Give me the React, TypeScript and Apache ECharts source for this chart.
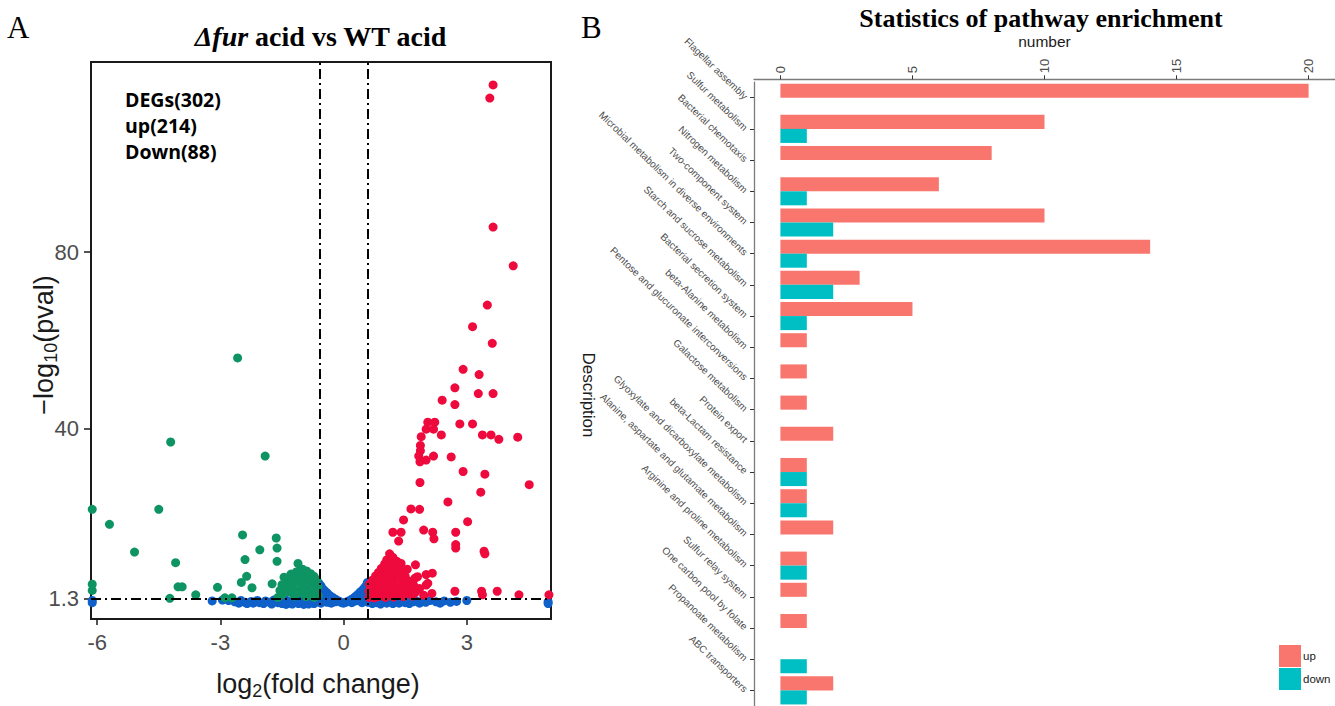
import React, { useEffect, useRef } from "react";
import * as echarts from "echarts";

// ---------- Panel A: volcano data [log2FC, -log10(p)] ----------
const upGenes: number[][] = [
  [3.64, 118], [3.56, 115], [3.64, 85.7], [4.13, 76.9], [3.5, 68.0], [3.14, 63.1], [3.62, 59.3],
  [2.91, 53.4], [3.3, 52.2], [2.71, 49.2], [3.28, 47.9], [3.64, 47.9], [2.4, 46.4], [2.71, 45.4],
  [2.05, 41.4], [2.22, 41.4], [2.01, 39.8], [2.19, 39.8], [2.83, 41.0], [3.14, 41.0], [2.38, 38.5],
  [1.89, 38.1], [3.38, 38.5], [3.59, 38.5], [3.78, 37.5], [4.24, 38.0], [1.87, 36.1], [1.87, 34.9],
  [1.83, 33.7], [1.86, 32.4], [2.01, 32.8], [2.19, 33.7], [2.62, 33.5], [2.91, 30.2], [3.44, 29.6],
  [1.86, 27.7], [4.52, 27.2], [3.34, 25.5], [2.54, 23.3], [1.64, 21.7], [1.85, 21.6], [1.46, 19.2],
  [3.02, 18.8], [1.2, 16.4], [1.4, 16.4], [1.95, 16.9], [2.17, 16.4], [2.73, 16.4], [1.34, 14.4],
  [2.2, 14.9], [2.73, 13.6], [2.73, 12.8], [3.42, 12.1], [3.44, 11.5], [1.75, 9.0], [2.01, 6.8],
  [2.16, 7.1], [1.74, 6.0], [1.75, 3.7], [2.01, 4.4], [2.71, 3.0], [3.36, 3.0], [3.38, 2.2],
  [3.74, 3.0], [4.27, 2.2], [5.0, 2.2],
  [0.62, 1.6], [0.62, 3.0], [0.63, 4.6], [0.68, 2.2], [0.7, 3.8], [0.7, 5.5], [0.75, 1.5], [0.75, 4.5],
  [0.78, 6.5], [0.8, 2.8], [0.82, 5.2], [0.85, 7.3], [0.85, 1.8], [0.88, 3.9], [0.9, 6.1], [0.92, 8.2],
  [0.95, 2.5], [0.95, 4.8], [0.98, 7.0], [1.0, 9.2], [1.0, 3.4], [1.02, 1.6], [1.05, 5.8], [1.05, 10.1],
  [1.08, 8.0], [1.1, 2.2], [1.1, 4.2], [1.12, 11.5], [1.15, 6.8], [1.15, 9.4], [1.18, 3.0], [1.2, 10.7],
  [1.2, 5.2], [1.22, 1.7], [1.25, 8.5], [1.25, 7.0], [1.28, 4.0], [1.3, 9.8], [1.3, 2.5], [1.33, 6.0],
  [1.35, 8.1], [1.38, 3.3], [1.4, 9.3], [1.42, 5.0], [1.45, 7.2], [1.45, 1.8], [1.5, 4.2], [1.5, 6.4],
  [1.55, 2.6], [1.55, 8.0], [1.6, 5.3], [1.62, 3.5], [1.68, 1.9], [1.7, 4.5], [1.75, 2.8], [1.8, 6.3],
  [1.85, 3.6], [1.95, 2.1], [2.05, 4.8], [2.15, 2.5]
];

const downGenes: number[][] = [
  [-2.58, 56.0], [-4.21, 36.9], [-1.91, 33.7], [-6.12, 21.6], [-4.5, 21.6], [-5.7, 18.2], [-5.09, 11.9],
  [-4.09, 9.5], [-2.46, 15.8], [-1.64, 15.1], [-1.62, 12.8], [-2.04, 12.4], [-2.4, 10.2], [-1.62, 9.8],
  [-1.11, 9.3], [-4.03, 4.0], [-3.93, 4.0], [-3.07, 3.9], [-2.36, 6.4], [-2.49, 5.0], [-2.23, 3.8],
  [-1.74, 4.7], [-3.6, 2.2], [-4.23, 1.4], [-6.12, 4.6], [-6.12, 3.2], [-2.89, 1.5], [-2.72, 1.5],
  [-0.62, 2.0], [-0.62, 4.0], [-0.65, 5.6], [-0.68, 3.0], [-0.72, 1.6], [-0.72, 6.4], [-0.75, 4.6],
  [-0.8, 2.5], [-0.8, 7.0], [-0.85, 5.4], [-0.88, 3.5], [-0.9, 7.6], [-0.92, 1.8], [-0.95, 6.0],
  [-0.98, 4.2], [-1.0, 8.0], [-1.02, 2.6], [-1.05, 6.8], [-1.08, 5.0], [-1.12, 3.2], [-1.15, 7.4],
  [-1.2, 1.9], [-1.2, 5.8], [-1.25, 4.0], [-1.28, 6.9], [-1.32, 2.8], [-1.35, 5.2], [-1.4, 3.6],
  [-1.45, 6.2], [-1.5, 2.2], [-1.5, 4.5], [-1.55, 3.2], [-1.6, 1.6]
];

const nsGenes: number[][] = [
  [-6.12, 0.9], [-6.12, 0.4], [-3.2, 0.8], [-2.95, 1.0], [-2.8, 0.9], [-2.65, 0.6], [-2.55, 0.3],
  [-2.5, 0.9], [-2.4, 0.5], [-2.35, 0.2], [-2.25, 0.7], [-2.2, 0.3], [-2.1, 0.9], [-2.05, 0.4],
  [-1.95, 0.2], [-1.9, 0.8], [-1.8, 0.5], [-1.75, 0.1], [-1.7, 1.0], [-1.65, 0.7], [-1.6, 0.4],
  [-1.55, 0.8], [-1.5, 0.2], [-1.45, 0.6], [-1.42, 1.1], [-1.4, 0.0], [-1.35, 0.3], [-1.3, 0.7],
  [-1.25, 0.1], [-1.22, 1.0], [-1.2, 0.9], [-1.15, 0.5], [-1.1, 0.2], [-1.08, 0.8], [-1.05, 1.0],
  [-1.0, 0.6], [-0.97, 0.0], [-0.95, 0.3], [-0.9, 0.9], [-0.85, 0.1], [-0.82, 0.5], [-0.8, 0.6],
  [-0.75, 1.1], [-0.72, 0.2], [-0.7, 0.4], [-0.67, 0.9], [-0.65, 0.8], [-0.62, 2.5], [-0.6, 4.8],
  [-0.6, 3.8], [-0.58, 1.8], [-0.55, 0.3], [-0.55, 4.2], [-0.5, 3.5], [-0.5, 2.2], [-0.5, 1.0],
  [-0.45, 3.0], [-0.45, 1.6], [-0.4, 2.6], [-0.4, 0.5], [-0.35, 2.1], [-0.35, 1.2], [-0.3, 1.8],
  [-0.3, 0.3], [-0.25, 1.5], [-0.2, 1.2], [-0.2, 0.6], [-0.15, 0.9], [-0.1, 0.7], [-0.05, 0.4],
  [0.0, 0.3], [0.05, 0.5], [0.1, 0.7], [0.15, 0.9], [0.2, 1.2], [0.2, 0.4], [0.25, 1.5], [0.3, 1.9],
  [0.3, 0.8], [0.35, 2.3], [0.4, 2.8], [0.4, 1.3], [0.45, 3.2], [0.45, 0.4], [0.5, 3.7], [0.5, 2.0],
  [0.55, 4.3], [0.55, 1.0], [0.58, 5.0], [0.6, 3.0], [0.6, 0.5], [0.65, 1.0], [0.68, 0.5], [0.7, 0.2],
  [0.75, 0.8], [0.78, 1.1], [0.8, 0.4], [0.85, 1.0], [0.88, 0.6], [0.9, 0.1], [0.95, 0.6], [0.98, 1.1],
  [1.0, 0.9], [1.05, 0.3], [1.1, 0.7], [1.15, 1.0], [1.2, 0.2], [1.25, 0.6], [1.3, 0.9], [1.35, 0.3],
  [1.4, 0.7], [1.45, 1.0], [1.5, 0.4], [1.55, 1.0], [1.6, 0.2], [1.65, 0.7], [1.7, 0.6], [1.75, 0.9],
  [1.85, 0.3], [1.9, 0.7], [2.0, 0.5], [2.1, 0.9], [2.25, 0.6], [2.35, 0.3], [2.45, 0.8], [2.6, 0.5],
  [2.75, 0.7], [3.0, 0.9], [4.98, 0.6], [4.98, 0.2]
];

const volcanoXTicks = [-6, -3, 0, 3];
const volcanoYTicks = [1.3, 40, 80];
const fcCutoff = 0.585;
const pCutoff = 1.3;

// ---------- Panel B: pathway enrichment ----------
const pathways = [
  "Flagellar assembly", "Sulfur metabolism", "Bacterial chemotaxis", "Nitrogen metabolism",
  "Two-component system", "Microbial metabolism in diverse environments", "Starch and sucrose metabolism",
  "Bacterial secretion system", "beta-Alanine metabolism", "Pentose and glucuronate interconversions",
  "Galactose metabolism", "Protein export", "beta-Lactam resistance",
  "Glyoxylate and dicarboxylate metabolism", "Alanine, aspartate and glutamate metabolism",
  "Arginine and proline metabolism", "Sulfur relay system", "One carbon pool by folate",
  "Propanoate metabolism", "ABC transporters"
];
const upCounts = [20, 10, 8, 6, 10, 14, 3, 5, 1, 1, 1, 2, 1, 1, 2, 1, 1, 1, 0, 2];
const downCounts = [0, 1, 0, 1, 2, 1, 2, 1, 0, 0, 0, 0, 1, 1, 0, 1, 0, 0, 1, 1];
const numberTicks = [0, 5, 10, 15, 20];

const SANS = "Liberation Sans, Arial, Helvetica, sans-serif";
const SERIF = "Liberation Serif, Times New Roman, serif";
const CALIBRI = "Open Sans, Noto Sans, sans-serif";

let measureCtx: CanvasRenderingContext2D | null = null;
function measure(text: string, font: string): number {
  if (!measureCtx) measureCtx = document.createElement("canvas").getContext("2d");
  if (!measureCtx) return text.length * 10;
  measureCtx.font = font;
  return measureCtx.measureText(text).width;
}

type Piece = { text: string; size: number; weight?: string; style?: string; family: string; dy?: number; fill?: string };
function textRun(cx: number, cy: number, pieces: Piece[], rotation = 0): any {
  const widths = pieces.map((p) =>
    measure(p.text, `${p.style || "normal"} ${p.weight || "normal"} ${p.size}px ${p.family}`)
  );
  const total = widths.reduce((a, b) => a + b, 0);
  let x = -total / 2;
  const children = pieces.map((p, i) => {
    const el = {
      type: "text",
      x,
      y: p.dy || 0,
      style: {
        text: p.text,
        fontSize: p.size,
        fontFamily: p.family,
        fontWeight: p.weight || "normal",
        fontStyle: p.style || "normal",
        fill: p.fill || "#1a1a1a",
        align: "left",
        textAlign: "left",
        verticalAlign: "middle",
        textVerticalAlign: "middle",
      },
    };
    x += widths[i];
    return el;
  });
  return { type: "group", x: cx, y: cy, rotation, children };
}

function plainText(x: number, y: number, text: string, size: number, family: string, extra: any = {}): any {
  return {
    type: "text",
    x,
    y,
    rotation: extra.rotation || 0,
    style: {
      text,
      fontSize: size,
      fontFamily: family,
      fontWeight: extra.weight || "normal",
      fill: extra.fill || "#111",
      align: extra.align || "left",
      textAlign: extra.align || "left",
      verticalAlign: "middle",
      textVerticalAlign: "middle",
    },
  };
}

export default function App() {
  const ref = useRef<HTMLDivElement>(null);

  useEffect(() => {
    if (!ref.current) return;
    const chart = echarts.init(ref.current, undefined, { renderer: "svg" });

    const dashDot = [10, 4, 2, 4];
    const graphics: any[] = [
      plainText(7, 27, "A", 31, SERIF, { fill: "#000" }),
      plainText(581, 27, "B", 31, SERIF, { fill: "#000" }),
      textRun(321, 36, [
        { text: "Δfur", size: 28, weight: "bold", style: "italic", family: SERIF, fill: "#000" },
        { text: " acid vs WT acid", size: 28, weight: "bold", family: SERIF, fill: "#000" },
      ]),
      textRun(1041, 18, [
        { text: "Statistics of pathway enrichment", size: 26, weight: "bold", family: SERIF, fill: "#000" },
      ]),
      plainText(125, 99, "DEGs(302)", 19.5, CALIBRI, { weight: "bold", fill: "#000" }),
      plainText(125, 125, "up(214)", 19.5, CALIBRI, { weight: "bold", fill: "#000" }),
      plainText(125, 151, "Down(88)", 19.5, CALIBRI, { weight: "bold", fill: "#000" }),
      textRun(318, 684, [
        { text: "log", size: 27, family: SANS },
        { text: "2", size: 18, family: SANS, dy: 7 },
        { text: "(fold change)", size: 27, family: SANS },
      ]),
      textRun(44, 345, [
        { text: "−log", size: 27, family: SANS },
        { text: "10", size: 18, family: SANS, dy: 7 },
        { text: "(pval)", size: 27, family: SANS },
      ], Math.PI / 2),
      plainText(588, 395, "Description", 17, SANS, { align: "center", rotation: -Math.PI / 2, fill: "#1a1a1a" }),
    ];

    const option: any = {
      animation: false,
      backgroundColor: "#ffffff",
      grid: [
        { left: 91, top: 62, width: 460, height: 557, show: true, borderColor: "#1a1a1a", borderWidth: 2, backgroundColor: "transparent" },
        { left: 754, top: 82.1, width: 599, height: 625.2 },
      ],
      xAxis: [
        {
          type: "value", gridIndex: 0, min: -6.15, max: 5.05,
          axisLine: { show: false, onZero: false }, splitLine: { show: false },
          axisTick: { show: true, length: 6, lineStyle: { color: "#1a1a1a", width: 1.5 }, customValues: volcanoXTicks },
          axisLabel: { customValues: volcanoXTicks, fontSize: 22, color: "#4d4d4d", fontFamily: SANS, margin: 12 },
        },
        {
          type: "value", gridIndex: 1, position: "top", min: -1, max: 21, offset: 2.8,
          name: "number", nameLocation: "middle", nameGap: 30,
          nameTextStyle: { fontSize: 15.5, color: "#1a1a1a", fontFamily: SANS },
          axisLine: { show: true, onZero: false, lineStyle: { color: "#7a7a7a", width: 1.3 } },
          splitLine: { show: false },
          axisTick: { show: true, length: 4, lineStyle: { color: "#333", width: 1 }, customValues: numberTicks },
          axisLabel: { customValues: numberTicks, rotate: -90, fontSize: 13, color: "#4d4d4d", fontFamily: SANS, margin: 6 },
        },
      ],
      yAxis: [
        {
          type: "value", gridIndex: 0, min: -3.3, max: 123.2,
          axisLine: { show: false, onZero: false }, splitLine: { show: false },
          axisTick: { show: true, length: 7, lineStyle: { color: "#1a1a1a", width: 1.5 }, customValues: volcanoYTicks },
          axisLabel: { customValues: volcanoYTicks, fontSize: 22, color: "#4d4d4d", fontFamily: SANS, margin: 12 },
        },
        {
          type: "category", gridIndex: 1, inverse: true, data: pathways,
          axisLine: { show: true, onZero: false, lineStyle: { color: "#7a7a7a", width: 1.3 } },
          axisTick: { show: true, alignWithLabel: true, length: 4, lineStyle: { color: "#333", width: 1 } },
          axisLabel: { interval: 0, rotate: -44, fontSize: 10, color: "#4d4d4d", fontFamily: SANS, margin: 8 },
          splitLine: { show: false },
        },
      ],
      legend: {
        data: ["up", "down"],
        orient: "vertical",
        left: 1279, top: 645, padding: 0,
        itemWidth: 22, itemHeight: 22, itemGap: 1,
        icon: "rect",
        textStyle: { fontSize: 11.5, color: "#1a1a1a", fontFamily: SANS, padding: [0, 0, 0, -3] },
      },
      graphic: graphics,
      series: [
        {
          name: "ns", type: "scatter", xAxisIndex: 0, yAxisIndex: 0, data: nsGenes,
          symbolSize: 9, itemStyle: { color: "#1060C9", opacity: 1 }, silent: true,
        },
        {
          name: "downGenes", type: "scatter", xAxisIndex: 0, yAxisIndex: 0, data: downGenes,
          symbolSize: 9, itemStyle: { color: "#0E9463", opacity: 1 }, silent: true,
        },
        {
          name: "upGenes", type: "scatter", xAxisIndex: 0, yAxisIndex: 0, data: upGenes,
          symbolSize: 9, itemStyle: { color: "#EE0A3C", opacity: 1 }, silent: true,
        },
        {
          name: "cutoffs", type: "line", xAxisIndex: 0, yAxisIndex: 0, data: [], z: 10, silent: true,
          markLine: {
            silent: true, symbol: ["none", "none"], label: { show: false },
            lineStyle: { type: dashDot, color: "#000", width: 2 },
            data: [{ xAxis: -fcCutoff }, { xAxis: fcCutoff }, { yAxis: pCutoff }],
          },
        },
        {
          name: "up", type: "bar", xAxisIndex: 1, yAxisIndex: 1, data: upCounts,
          itemStyle: { color: "#F8766D" }, barGap: "0%", barCategoryGap: "10%",
        },
        {
          name: "down", type: "bar", xAxisIndex: 1, yAxisIndex: 1, data: downCounts,
          itemStyle: { color: "#00BFC4" }, barGap: "0%", barCategoryGap: "10%",
        },
      ],
    };

    chart.setOption(option);
    return () => chart.dispose();
  }, []);

  return (
    <div
      ref={ref}
      style={{ position: "fixed", left: 0, top: 0, width: 1335, height: 706, background: "#fff" }}
    />
  );
}
